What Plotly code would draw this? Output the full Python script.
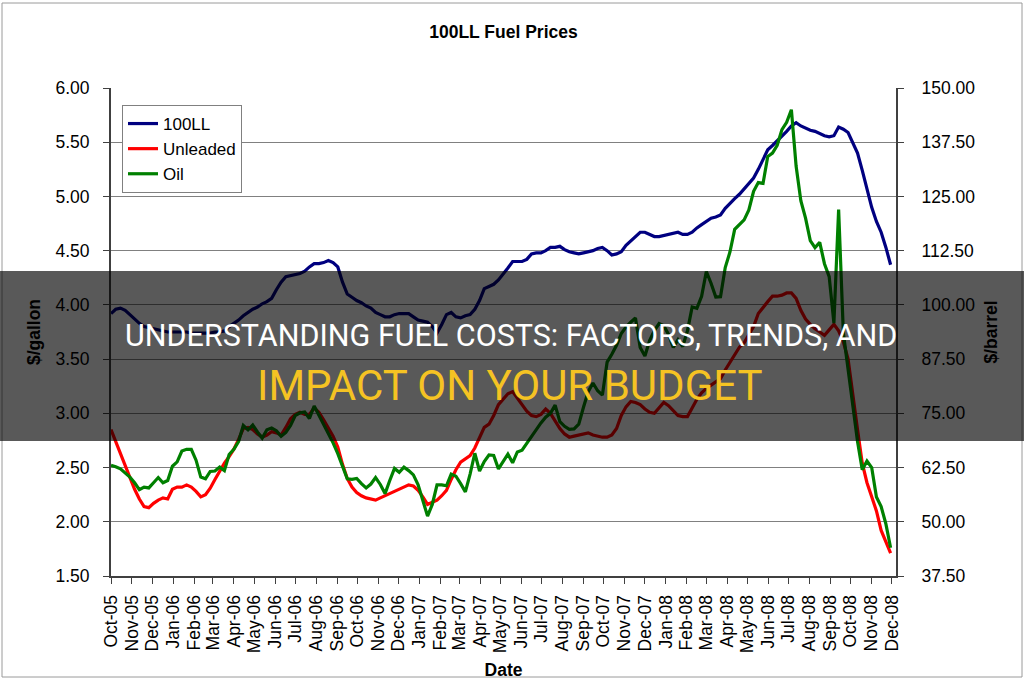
import pandas as pd
import plotly.graph_objects as go

# ---------------- data (weekly readings, Oct-2005 .. Dec-2008) ----------------
start_week = "2005-10-01"

ll100 = [3.92, 3.96, 3.97, 3.95, 3.91, 3.87, 3.83, 3.80, 3.79, 3.78,
         3.77, 3.76, 3.75, 3.75, 3.75, 3.75, 3.75, 3.74, 3.74, 3.74,
         3.74, 3.74, 3.75, 3.75, 3.76, 3.80, 3.83, 3.86, 3.90, 3.93,
         3.96, 3.98, 4.01, 4.03, 4.06, 4.14, 4.21, 4.26, 4.27, 4.28,
         4.29, 4.31, 4.35, 4.38, 4.38, 4.39, 4.41, 4.39, 4.35, 4.21,
         4.10, 4.07, 4.04, 4.02, 3.99, 3.97, 3.93, 3.91, 3.89, 3.89,
         3.91, 3.92, 3.92, 3.92, 3.89, 3.86, 3.85, 3.84, 3.80, 3.74,
         3.82, 3.91, 3.93, 3.89, 3.88, 3.90, 3.91, 3.96, 4.04, 4.15,
         4.17, 4.19, 4.23, 4.28, 4.34, 4.40, 4.40, 4.40, 4.42, 4.47,
         4.48, 4.48, 4.50, 4.53, 4.53, 4.54, 4.51, 4.49, 4.48, 4.47,
         4.48, 4.49, 4.50, 4.52, 4.53, 4.50, 4.46, 4.47, 4.49, 4.55,
         4.59, 4.63, 4.67, 4.67, 4.65, 4.63, 4.63, 4.64, 4.65, 4.66,
         4.67, 4.65, 4.65, 4.67, 4.71, 4.74, 4.77, 4.80, 4.81, 4.83,
         4.89, 4.94, 4.98, 5.02, 5.07, 5.12, 5.17, 5.25, 5.34, 5.43,
         5.47, 5.51, 5.55, 5.60, 5.65, 5.68, 5.65, 5.63, 5.61, 5.60,
         5.58, 5.56, 5.55, 5.56, 5.64, 5.62, 5.59, 5.50, 5.40, 5.24,
         5.08, 4.90, 4.77, 4.67, 4.53, 4.37]

unleaded = [2.85, 2.74, 2.62, 2.51, 2.40, 2.30, 2.21, 2.14, 2.13, 2.17,
            2.20, 2.22, 2.21, 2.30, 2.32, 2.32, 2.34, 2.32, 2.28, 2.23,
            2.25, 2.31, 2.39, 2.47, 2.54, 2.60, 2.67, 2.76, 2.86, 2.87,
            2.85, 2.81, 2.78, 2.80, 2.83, 2.82, 2.80, 2.87, 2.95, 2.99,
            3.01, 2.99, 2.99, 3.05, 3.01, 2.94, 2.87, 2.79, 2.69, 2.53,
            2.40, 2.32, 2.27, 2.24, 2.22, 2.21, 2.20, 2.22, 2.24, 2.26,
            2.28, 2.30, 2.32, 2.34, 2.33, 2.29, 2.23, 2.16, 2.18, 2.20,
            2.24, 2.29, 2.39, 2.48, 2.55, 2.58, 2.61, 2.68, 2.78, 2.87,
            2.90, 2.98, 3.08, 3.13, 3.18, 3.20, 3.14, 3.07, 3.02, 2.98,
            2.97, 2.99, 3.04, 3.00, 2.93, 2.86, 2.81, 2.78, 2.79, 2.80,
            2.81, 2.82, 2.80, 2.79, 2.78, 2.78, 2.80, 2.86, 2.98, 3.06,
            3.11, 3.10, 3.08, 3.04, 3.01, 3.00, 3.05, 3.10, 3.07, 3.02,
            2.98, 2.97, 2.97, 3.05, 3.13, 3.19, 3.23, 3.26, 3.29, 3.32,
            3.40, 3.47, 3.54, 3.61, 3.65, 3.72, 3.80, 3.92, 3.98, 4.03,
            4.08, 4.08, 4.09, 4.11, 4.11, 4.06, 3.95, 3.87, 3.82, 3.78,
            3.75, 3.72, 3.77, 3.82, 3.76, 3.66, 3.50, 3.20, 2.85, 2.54,
            2.36, 2.23, 2.10, 1.92, 1.82, 1.71]

oil = [63.0, 62.7, 62.2, 61.3, 60.3, 59.0, 57.4, 58.0, 57.8, 59.0,
       60.2, 59.0, 59.5, 62.8, 63.8, 66.3, 66.7, 66.7, 64.2, 60.3,
       59.9, 61.6, 61.7, 62.6, 61.8, 65.5, 66.7, 68.5, 72.2, 71.2,
       72.3, 70.7, 69.3, 71.2, 71.6, 71.0, 69.7, 70.6, 72.2, 74.5,
       75.1, 75.3, 73.8, 76.7, 74.6, 72.6, 70.5, 68.2, 65.7, 63.0,
       59.9, 59.8, 60.0, 58.8, 57.8, 58.7, 60.2, 58.6, 56.5, 59.5,
       62.3, 61.4, 62.6, 61.8, 60.8, 58.5, 55.0, 51.3, 54.0, 58.5,
       58.5, 58.3, 61.0, 60.5, 58.8, 56.9, 61.0, 65.8, 61.7, 63.9,
       65.4, 65.3, 62.2, 63.8, 65.6, 63.6, 66.1, 66.5, 68.1, 69.8,
       71.1, 72.8, 74.1, 75.0, 76.9, 73.1, 72.0, 71.3, 71.4, 72.5,
       76.4, 80.0, 82.0, 80.2, 79.2, 86.8, 88.6, 90.7, 93.4, 94.9,
       96.0, 97.0, 90.2, 88.2, 91.8, 94.1, 95.7, 95.2, 93.2, 90.2,
       92.0, 90.4, 94.0, 99.5, 99.2, 102.0, 107.7, 105.0, 101.8, 101.9,
       108.6, 112.2, 117.4, 118.4, 119.6, 121.9, 126.2, 128.2, 128.0, 134.2,
       135.0, 136.8, 140.4, 142.1, 145.0, 132.0, 124.0, 120.0, 114.8, 113.2,
       114.4, 109.5, 106.5, 95.8, 122.0, 93.5, 85.0, 77.0, 68.5, 62.0,
       64.0, 62.5, 55.7, 53.5, 49.5, 44.0]

series_names = ["100LL", "Unleaded", "Oil"]
series_colors = ["#000080", "#FF0000", "#008000"]

title_text = "100LL Fuel Prices"
x_title = "Date"
y_left_title = "$/gallon"
y_right_title = "$/barrel"
banner_line1 = "UNDERSTANDING FUEL COSTS: FACTORS, TRENDS, AND"
banner_line2 = "IMPACT ON YOUR BUDGET"

dates = pd.date_range(start_week, periods=len(ll100), freq="7D")

# ---------------- figure ----------------
FONT = "Liberation Sans, Arial, sans-serif"
W, H = 1024, 680
L, R, T, B = 111, 128, 88, 104
PW, PH = W - L - R, H - T - B


def px_x(px):
    return (px - L) / PW


def px_y(py):
    return 1 - (py - T) / PH


fig = go.Figure()
fig.add_trace(go.Scatter(x=dates, y=ll100, name=series_names[0], mode="lines",
                         line=dict(color=series_colors[0], width=3.2), yaxis="y"))
fig.add_trace(go.Scatter(x=dates, y=unleaded, name=series_names[1], mode="lines",
                         line=dict(color=series_colors[1], width=3.2), yaxis="y"))
fig.add_trace(go.Scatter(x=dates, y=oil, name=series_names[2], mode="lines",
                         line=dict(color=series_colors[2], width=3.2), yaxis="y2"))

fig.update_layout(
    width=W, height=H,
    margin=dict(l=L, r=R, t=T, b=B, pad=0, autoexpand=False),
    paper_bgcolor="white", plot_bgcolor="white",
    font=dict(family=FONT, size=17.5, color="black"),
    title=dict(text="<b>" + title_text + "</b>", x=0.5, xref="paper", xanchor="center",
               y=1 - 32 / H, yref="container", yanchor="middle",
               font=dict(family=FONT, size=17.5, color="black")),
    showlegend=True,
    legend=dict(x=px_x(122), y=px_y(105), xanchor="left", yanchor="top",
                bgcolor="white", bordercolor="#808080", borderwidth=1,
                font=dict(family=FONT, size=17, color="black"),
                tracegroupgap=0),
    xaxis=dict(type="date", range=["2005-10-01", "2008-12-07"],
               tick0="2005-10-01", dtick="M1", tickformat="%b-%y",
               tickangle=-90, ticks="outside", ticklen=6, tickcolor="#404040",
               showline=True, linecolor="#404040", linewidth=2,
               showgrid=False, zeroline=False, automargin=False,
               ticklabelstandoff=4,
               tickfont=dict(family=FONT, size=17.5, color="black"),
               title=dict(text="<b>" + x_title + "</b>", standoff=16,
                          font=dict(family=FONT, size=17.5, color="black"))),
    yaxis=dict(range=[1.5, 6.0], dtick=0.5, tick0=1.5, tickformat=".2f",
               ticks="outside", ticklen=6, tickcolor="#404040",
               showline=True, linecolor="#404040", linewidth=2,
               showgrid=True, gridcolor="#808080", gridwidth=1, zeroline=False,
               automargin=False, ticklabelstandoff=10,
               tickfont=dict(family=FONT, size=17.5, color="black"),
               title=dict(text="<b>" + y_left_title + "</b>", standoff=10,
                          font=dict(family=FONT, size=17.5, color="black"))),
    yaxis2=dict(range=[37.5, 150.0], dtick=12.5, tick0=37.5, tickformat=".2f",
                overlaying="y", side="right",
                ticks="outside", ticklen=6, tickcolor="#404040",
                showline=True, linecolor="#404040", linewidth=2,
                showgrid=False, zeroline=False, automargin=False,
                ticklabelstandoff=14,
                tickfont=dict(family=FONT, size=17.5, color="black"),
                title=dict(text="<b>" + y_right_title + "</b>", standoff=10,
                           font=dict(family=FONT, size=17.5, color="black"))),
)

# outer chart-area border
fig.add_shape(type="rect", xref="paper", yref="paper",
              x0=px_x(2), x1=px_x(1022), y0=px_y(677), y1=px_y(3),
              line=dict(color="#9a9a9a", width=1), fillcolor="rgba(0,0,0,0)",
              layer="below")

# dark banner
fig.add_shape(type="rect", xref="paper", yref="paper",
              x0=px_x(0), x1=px_x(W), y0=px_y(441), y1=px_y(271),
              line=dict(width=0), fillcolor="rgba(0,0,0,0.65)", layer="above")

fig.add_annotation(text=banner_line1, xref="paper", yref="paper",
                   x=px_x(511), y=px_y(335), xanchor="center", yanchor="middle",
                   showarrow=False,
                   font=dict(family="Roboto, sans-serif", size=30.5, color="white"))
fig.add_annotation(text=banner_line2, xref="paper", yref="paper",
                   x=px_x(510), y=px_y(385), xanchor="center", yanchor="middle",
                   showarrow=False,
                   font=dict(family="Roboto, sans-serif", size=42, color="#F5C323"))

fig.write_html("out.html")
